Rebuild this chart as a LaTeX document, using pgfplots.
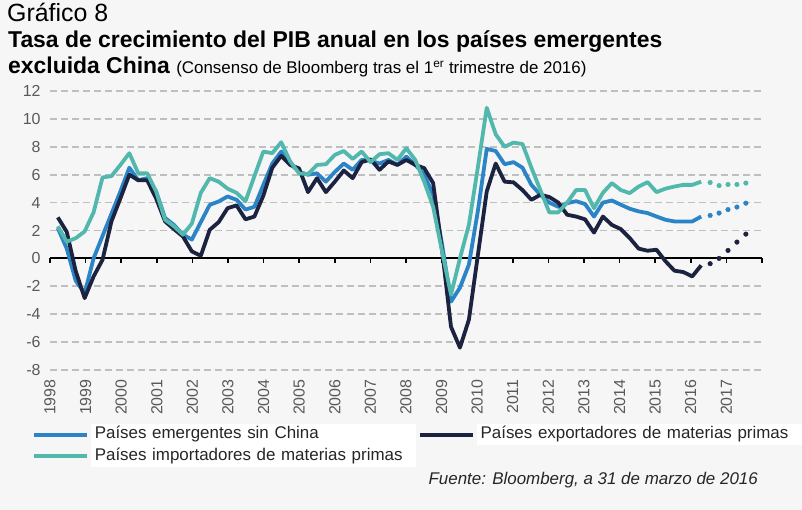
\documentclass[border=0pt]{standalone}
\usepackage{fontspec}
\setmainfont{Liberation Sans}
\usepackage{pgfplots}
\pgfplotsset{compat=1.18}
\usepackage{pgfplotstable}

\definecolor{bg}{HTML}{F6F6F6}
\definecolor{cblue}{HTML}{2B84C6}
\definecolor{cdark}{HTML}{1C2340}
\definecolor{cteal}{HTML}{52B8AE}
\definecolor{cgrid}{HTML}{BFBFBF}
\definecolor{ctick}{HTML}{595959}
\definecolor{ctext}{HTML}{262626}

\pgfplotstableread{
q emer expo impo
0 2.17 2.94 2.30
1 0.70 1.90 1.20
2 -1.60 -0.90 1.45
3 -2.50 -2.85 1.93
4 0.00 -1.30 3.30
5 1.60 -0.10 5.80
6 3.20 2.65 5.90
7 4.80 4.30 6.70
8 6.50 6.00 7.54
9 5.60 5.60 6.10
10 5.75 5.60 6.10
11 4.80 4.30 4.80
12 2.90 2.65 2.77
13 2.40 2.10 2.30
14 1.70 1.57 1.70
15 1.35 0.50 2.50
16 2.60 0.19 4.70
17 3.84 2.05 5.75
18 4.08 2.60 5.50
19 4.44 3.60 5.00
20 4.20 3.80 4.70
21 3.50 2.80 4.10
22 3.70 3.00 5.90
23 5.27 4.50 7.66
24 6.80 6.50 7.54
25 7.66 7.35 8.33
26 6.80 6.70 6.95
27 6.20 6.45 6.10
28 6.00 4.75 6.04
29 6.10 5.75 6.70
30 5.50 4.75 6.75
31 6.20 5.50 7.42
32 6.80 6.30 7.70
33 6.35 5.75 7.13
34 7.06 6.90 7.66
35 7.00 7.10 6.90
36 6.80 6.35 7.47
37 7.06 6.95 7.54
38 6.70 6.70 7.06
39 7.30 7.06 7.90
40 6.70 6.70 7.06
41 6.00 6.47 5.50
42 4.56 5.40 3.70
43 1.00 0.60 0.50
44 -3.10 -4.90 -2.60
45 -2.10 -6.40 0.00
46 -0.45 -4.40 2.40
47 3.37 0.20 6.50
48 7.85 4.80 10.80
49 7.70 6.80 8.90
50 6.75 5.50 8.00
51 6.90 5.45 8.30
52 6.50 4.90 8.20
53 5.27 4.20 6.50
54 4.56 4.56 4.90
55 4.00 4.40 3.30
56 3.70 4.00 3.30
57 3.96 3.13 4.00
58 4.10 3.00 4.90
59 3.90 2.80 4.90
60 3.00 1.85 3.60
61 4.00 3.00 4.70
62 4.15 2.40 5.40
63 3.85 2.10 4.90
64 3.56 1.46 4.68
65 3.37 0.70 5.15
66 3.25 0.55 5.47
67 3.00 0.62 4.75
68 2.77 -0.20 5.00
69 2.65 -0.88 5.15
70 2.65 -0.98 5.27
71 2.65 -1.29 5.27
72 3.00 -0.50 5.50
}\datahist

\pgfplotstableread{
q emer expo impo
73 3.08 -0.38 5.44
74 3.25 0.00 5.22
75 3.50 0.57 5.30
76 3.68 1.17 5.30
77 3.96 1.74 5.40
}\datafc

\begin{document}
\begin{tikzpicture}
\path[use as bounding box, fill=bg] (0,0) rectangle (802bp,510bp);

\node[anchor=base west, inner sep=0pt, font=\fontsize{25}{29}\selectfont] at (7bp,488bp) {Gráfico 8};
\node[anchor=base west, inner sep=0pt, font=\bfseries\fontsize{23}{27}\selectfont] at (8bp,462bp) {Tasa de crecimiento del PIB anual en los países emergentes};
\node[anchor=base west, inner sep=0pt] at (8bp,436bp) {\fontsize{23}{27}\selectfont\bfseries excluida China \mdseries\fontsize{17}{20}\selectfont(Consenso de Bloomberg tras el 1\textsuperscript{er} trimestre de 2016)};

\begin{axis}[
  at={(50bp,140bp)}, anchor=south west,
  width=712bp, height=279bp, scale only axis,
  xmin=1998, xmax=2018, ymin=-8, ymax=12,
  axis line style={draw=none},
  xtick={1998,...,2017}, ytick={-8,-6,...,12},
  major tick length=0pt,
  ymajorgrids,
  grid style={cgrid, line width=1.8bp, dash pattern=on 7bp off 4bp},
  /pgf/number format/assume math mode=true,
  /pgf/number format/1000 sep={},
  xticklabel style={rotate=90, anchor=east, font=\fontsize{16}{16}\selectfont, text=ctick},
  yticklabel style={font=\fontsize{16}{16}\selectfont, text=ctick},
  xticklabel shift=6bp, yticklabel shift=6bp,
]
\end{axis}

\begin{axis}[
  at={(50bp,140bp)}, anchor=south west,
  width=712bp, height=279bp, scale only axis,
  xmin=1998, xmax=2018, ymin=-8, ymax=12,
  axis x line*=middle, axis y line=none,
  xtick={1998,...,2018}, xticklabels={}, ytick=\empty,
  xtick align=outside, major tick length=4.5bp,
  x axis line style={black, line width=1.8bp},
  xtick style={black, line width=1.6bp},
  legend columns=2,
  legend cell align=left,
  legend style={at={(axis description cs:-0.0253,-0.1935)}, anchor=north west,
    draw=none, fill=none, inner sep=0pt, outer sep=0pt,
    column sep=2bp, row sep=0pt,
    nodes={fill=white, text width=317bp, inner xsep=4bp, inner ysep=2.5bp,
      text height=12.5bp, text depth=4bp, font=\fontsize{17}{17}\selectfont, text=ctext}},
  legend image code/.code={\draw[#1] (0bp,0bp) -- (53bp,0bp);},
]
\addplot[cblue, line width=3.8bp, line join=round] table[x expr=1998.22+0.251*\thisrow{q}, y=emer] {\datahist};
\addlegendentry{Países emergentes sin China}
\addplot[cdark, line width=3.8bp, line join=round] table[x expr=1998.22+0.251*\thisrow{q}, y=expo] {\datahist};
\addlegendentry{Países exportadores de materias primas}
\addplot[cteal, line width=3.8bp, line join=round] table[x expr=1998.22+0.251*\thisrow{q}, y=impo] {\datahist};
\addlegendentry{Países importadores de materias primas}
\addplot[cblue, only marks, mark=*, mark size=2.3bp, forget plot] table[x expr=1998.22+0.251*\thisrow{q}, y=emer] {\datafc};
\addplot[cdark, only marks, mark=*, mark size=2.3bp, forget plot] table[x expr=1998.22+0.251*\thisrow{q}, y=expo] {\datafc};
\addplot[cteal, only marks, mark=*, mark size=2.3bp, forget plot] table[x expr=1998.22+0.251*\thisrow{q}, y=impo] {\datafc};
\end{axis}

\node[anchor=base east, inner sep=0pt, font=\itshape\fontsize{17}{17}\selectfont, text=ctext] at (758bp,26bp) {Fuente: Bloomberg, a 31 de marzo de 2016};
\end{tikzpicture}
\end{document}
